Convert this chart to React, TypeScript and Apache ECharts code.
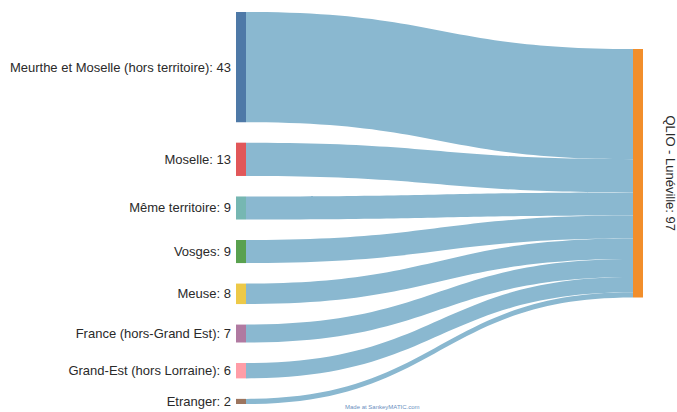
import React, { useEffect, useRef } from "react";
import * as echarts from "echarts";

const sourceNames = [
  "Meurthe et Moselle (hors territoire)",
  "Moselle",
  "Même territoire",
  "Vosges",
  "Meuse",
  "France (hors-Grand Est)",
  "Grand-Est (hors Lorraine)",
  "Etranger",
];
const sourceValues = [43, 13, 9, 9, 8, 7, 6, 2];
const sourceColors = [
  "#4e79a7",
  "#e15759",
  "#76b7b2",
  "#59a14f",
  "#edc948",
  "#b07aa1",
  "#ff9da7",
  "#9c755f",
];
const targetName = "QLIO - Lunéville";
const targetColor = "#f28e2b";
const linkColor = "#8ab8d0";

export default function App() {
  const ref = useRef<HTMLDivElement>(null);
  useEffect(() => {
    document.body.style.margin = "0";
    const chart = echarts.init(ref.current!, null, { renderer: "svg" });
    const nodes: any[] = sourceNames.map((n, i) => ({
      name: n,
      itemStyle: { color: sourceColors[i] },
    }));
    nodes.push({
      name: targetName,
      itemStyle: { color: targetColor },
      label: {
        position: "right",
        rotate: -90,
        align: "center",
        verticalAlign: "middle",
        distance: 27,
      },
    });
    const links = sourceNames.map((n, i) => ({
      source: n,
      target: targetName,
      value: sourceValues[i],
    }));
    chart.setOption({
      animation: false,
      series: [
        {
          type: "sankey",
          left: 236,
          right: 34,
          top: 12,
          bottom: 8,
          nodeWidth: 10,
          nodeGap: 20.5,
          nodeAlign: "justify",
          draggable: false,
          emphasis: { disabled: true },
          data: nodes,
          links,
          itemStyle: { borderWidth: 0 },
          lineStyle: { color: linkColor, opacity: 1, curveness: 0.5 },
          label: {
            position: "left",
            distance: 5,
            fontFamily: "Liberation Sans, Arial, sans-serif",
            fontSize: 13,
            color: "#2a2a2a",
            formatter: "{b}: {c}",
          },
        },
      ],
      graphic: [
        {
          type: "text",
          left: 345,
          top: 404,
          style: {
            text: "Made at SankeyMATIC.com",
            fontSize: 6,
            fontFamily: "Liberation Sans, Arial, sans-serif",
            fill: "#6a8fc0",
          },
        },
      ],
    });
    return () => chart.dispose();
  }, []);
  return (
    <div
      ref={ref}
      style={{ position: "absolute", left: 0, top: 0, width: 677, height: 412 }}
    />
  );
}
